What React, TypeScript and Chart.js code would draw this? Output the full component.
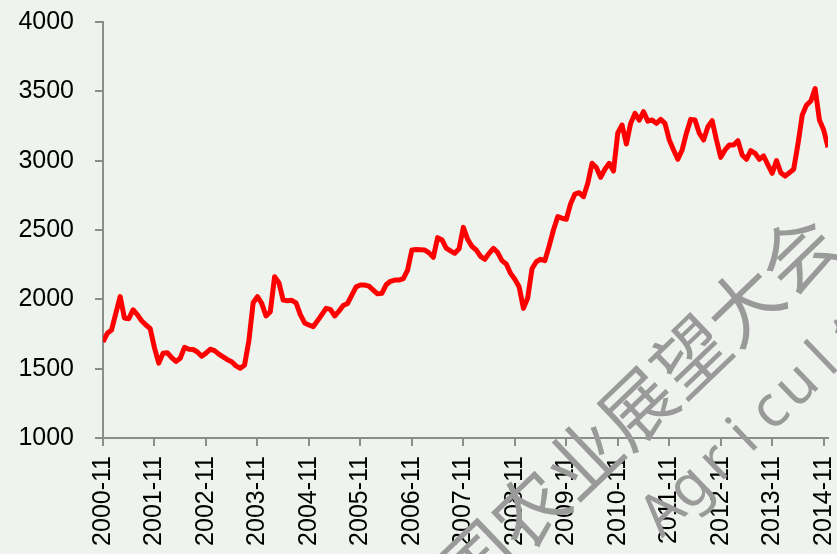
import React, { useEffect, useRef } from "react";
import { Chart, registerables } from "chart.js";

Chart.register(...registerables);

// Monthly prices, 2000-11 .. 2014-12
const prices: number[] = [
  1694, 1755, 1779, 1900, 2020, 1865, 1860, 1925, 1890, 1846, 1815, 1790,
  1650, 1540, 1611, 1615, 1580, 1552, 1575, 1654, 1640, 1638, 1620, 1590,
  1612, 1640, 1630, 1605, 1585, 1565, 1550, 1520, 1503, 1526, 1700, 1975,
  2019, 1971, 1880, 1911, 2163, 2120, 1995, 1990, 1993, 1975, 1890, 1830,
  1815, 1803, 1845, 1890, 1935, 1928, 1880, 1915, 1955, 1970, 2030, 2090,
  2103, 2103, 2095, 2067, 2040, 2043, 2105, 2130, 2139, 2139, 2150, 2211,
  2356, 2360, 2358, 2356, 2335, 2303, 2445, 2430, 2370, 2350, 2332, 2365,
  2519, 2433, 2382, 2356, 2310, 2289, 2332, 2368, 2337, 2279, 2255, 2188,
  2145, 2091, 1935, 2010, 2220, 2271, 2289, 2279, 2385, 2500, 2596, 2585,
  2577, 2690, 2759, 2769, 2740, 2837, 2981, 2950, 2880, 2938, 2981, 2925,
  3200, 3257, 3120, 3269, 3341, 3293, 3353, 3285, 3293, 3269, 3298, 3269,
  3150, 3077, 3010, 3077, 3198, 3298, 3293, 3198, 3149, 3245, 3288, 3149,
  3024, 3077, 3113, 3113, 3144, 3041, 3010, 3072, 3053, 3010, 3034, 2969,
  2909, 3000, 2913, 2889, 2913, 2938, 3120, 3330, 3401, 3430, 3520, 3293,
  3221, 3096,
];

// Category labels (months)
const months: string[] = [];
for (let i = 0; i < prices.length; i++) {
  const m0 = 10 + i; // 0-based month index starting Nov 2000
  const y = 2000 + Math.floor(m0 / 12);
  const m = (m0 % 12) + 1;
  months.push(`${y}-${m < 10 ? "0" + m : m}`);
}

const tickLabels: string[] = [
  "2000-11", "2001-11", "2002-11", "2003-11", "2004-11", "2005-11", "2006-11",
  "2007-11", "2008-11", "2009-11", "2010-11", "2011-11", "2012-11", "2013-11",
  "2014-11",
];

const yTicks: number[] = [1000, 1500, 2000, 2500, 3000, 3500, 4000];

const watermarkCn = "中国农业展望大会";
const watermarkEn = "Agricultural";

const BG = "#EFF3EE";
const AXIS = "#8c8c8c";
const FONT = "'Liberation Sans', Arial, sans-serif";

const bgPlugin = {
  id: "bg",
  beforeDraw(chart: any) {
    const ctx = chart.ctx;
    ctx.save();
    ctx.fillStyle = BG;
    ctx.fillRect(0, 0, chart.width, chart.height);
    ctx.restore();
  },
};

const watermarkPlugin = {
  id: "watermark",
  afterDraw(chart: any) {
    const ctx = chart.ctx;
    const ang = (-43.8 * Math.PI) / 180;
    ctx.save();
    ctx.fillStyle = "#9a9a9a";
    ctx.textAlign = "center";
    ctx.textBaseline = "middle";
    // Chinese line
    ctx.save();
    ctx.translate(423, 612);
    ctx.rotate(ang);
    ctx.font = "74px 'Noto Sans CJK SC'";
    Array.from(watermarkCn).forEach((c, k) => ctx.fillText(c, k * 74, 0));
    ctx.restore();
    // Latin line
    ctx.save();
    ctx.translate(664, 514);
    ctx.rotate(ang);
    ctx.font = "58px 'Noto Sans', sans-serif";
    Array.from(watermarkEn).forEach((c, k) => ctx.fillText(c, k * 37, 0));
    ctx.restore();
    ctx.restore();
  },
};

export default function App() {
  const ref = useRef<HTMLCanvasElement>(null);

  useEffect(() => {
    document.body.style.margin = "0";
    document.body.style.background = BG;
    const canvas = ref.current!;
    const chart = new Chart(canvas, {
      type: "line",
      data: {
        labels: months,
        datasets: [
          {
            data: prices.map((v, i) => ({ x: i, y: v })),
            borderColor: "#FF0000",
            borderWidth: 5,
            pointRadius: 0,
            tension: 0,
            borderJoinStyle: "round",
            fill: false,
          },
        ],
      },
      options: {
        animation: false,
        responsive: false,
        devicePixelRatio: 1,
        layout: { padding: { top: 22, right: 9, left: 0, bottom: 0 } },
        plugins: {
          legend: { display: false },
          tooltip: { enabled: false },
        },
        scales: {
          x: {
            type: "linear",
            min: 0,
            max: prices.length - 1,
            afterBuildTicks: (scale: any) => {
              scale.ticks = tickLabels.map((_, k) => ({ value: k * 12 }));
            },
            afterFit: (scale: any) => {
              scale.height = 116;
              scale.paddingLeft = 0;
              scale.paddingRight = 0;
              scale.paddingTop = 0;
              scale.paddingBottom = 0;
            },
            ticks: {
              autoSkip: false,
              minRotation: 90,
              maxRotation: 90,
              padding: 10,
              color: "#000",
              font: { family: FONT, size: 25 },
              callback: (v: any) => tickLabels[Math.round(v / 12)] ?? "",
            },
            grid: {
              drawOnChartArea: false,
              drawTicks: true,
              tickLength: 8,
              color: AXIS,
              lineWidth: 2,
            },
            border: { color: AXIS, width: 2 },
          },
          y: {
            min: 1000,
            max: 4000,
            afterBuildTicks: (scale: any) => {
              scale.ticks = yTicks.map((v) => ({ value: v }));
            },
            afterFit: (scale: any) => {
              scale.width = 103;
              scale.paddingTop = 0;
              scale.paddingBottom = 0;
              scale.paddingLeft = 0;
              scale.paddingRight = 0;
            },
            ticks: {
              padding: 21,
              color: "#000",
              font: { family: FONT, size: 25 },
              callback: (v: any) => String(v),
            },
            grid: {
              drawOnChartArea: false,
              drawTicks: true,
              tickLength: 8,
              color: AXIS,
              lineWidth: 2,
            },
            border: { color: AXIS, width: 2 },
          },
        },
      },
      plugins: [bgPlugin, watermarkPlugin],
    } as any);
    return () => chart.destroy();
  }, []);

  return (
    <div style={{ position: "absolute", left: 0, top: 0, width: 837, height: 554, background: BG }}>
      <canvas ref={ref} width={837} height={554} style={{ display: "block", width: 837, height: 554 }} />
    </div>
  );
}
